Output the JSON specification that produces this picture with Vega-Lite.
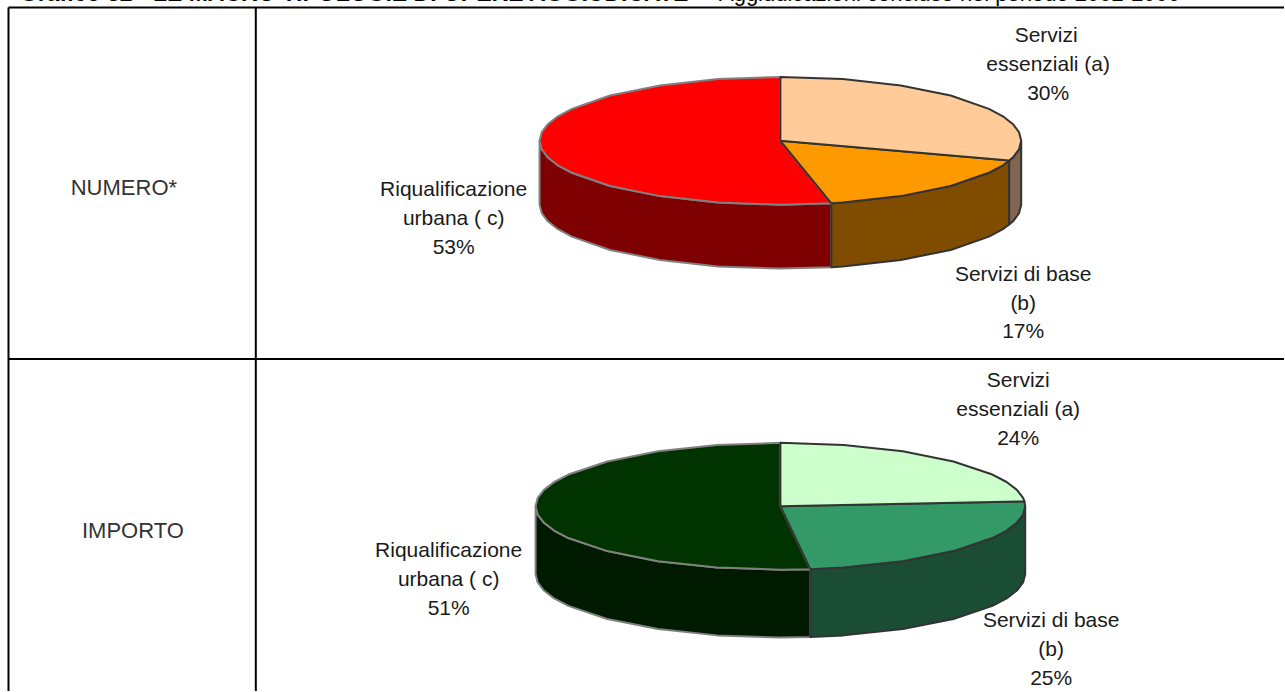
{"$schema":"https://vega.github.io/schema/vega-lite/v6.json","width":1285,"height":692,"autosize":{"type":"fit","contains":"padding"},"padding":0,"background":"#ffffff","config":{"view":{"stroke":null}},
"datasets":{
"grid":[{"x":8.5,"x2":8.5,"y":7.5,"y2":692},{"x":256,"x2":256,"y":7.5,"y2":692},{"x":8.5,"x2":1285,"y":7.5,"y2":7.5},{"x":8.5,"x2":1285,"y":359.5,"y2":359.5}],
"shapes":[
{"part":"n_side_c","x":832,"y":203.6},{"part":"n_side_c","x":781,"y":205},{"part":"n_side_c","x":718.6,"y":202.8},{"part":"n_side_c","x":660.5,"y":196.4},{"part":"n_side_c","x":610.6,"y":186.3},{"part":"n_side_c","x":572.3,"y":173},{"part":"n_side_c","x":558.3,"y":165.5},{"part":"n_side_c","x":548.2,"y":157.6},{"part":"n_side_c","x":542.1,"y":149.4},{"part":"n_side_c","x":540,"y":141},{"part":"n_side_c","x":540,"y":205},{"part":"n_side_c","x":542.1,"y":213.4},{"part":"n_side_c","x":548.2,"y":221.6},{"part":"n_side_c","x":558.3,"y":229.5},{"part":"n_side_c","x":572.3,"y":237},{"part":"n_side_c","x":610.6,"y":250.3},{"part":"n_side_c","x":660.5,"y":260.4},{"part":"n_side_c","x":718.6,"y":266.8},{"part":"n_side_c","x":781,"y":269},{"part":"n_side_c","x":832,"y":267.6},{"part":"n_side_c","x":832,"y":203.6},
{"part":"n_side_b","x":1010,"y":160.8},{"part":"n_side_b","x":1003.7,"y":165.5},{"part":"n_side_b","x":989.7,"y":173},{"part":"n_side_b","x":951.4,"y":186.3},{"part":"n_side_b","x":901.5,"y":196.4},{"part":"n_side_b","x":843.4,"y":202.8},{"part":"n_side_b","x":832,"y":203.6},{"part":"n_side_b","x":832,"y":267.6},{"part":"n_side_b","x":843.4,"y":266.8},{"part":"n_side_b","x":901.5,"y":260.4},{"part":"n_side_b","x":951.4,"y":250.3},{"part":"n_side_b","x":989.7,"y":237},{"part":"n_side_b","x":1003.7,"y":229.5},{"part":"n_side_b","x":1010,"y":224.8},{"part":"n_side_b","x":1010,"y":160.8},
{"part":"n_side_a","x":1010,"y":160.8},{"part":"n_side_a","x":1013.8,"y":157.6},{"part":"n_side_a","x":1019.9,"y":149.4},{"part":"n_side_a","x":1022,"y":141},{"part":"n_side_a","x":1022,"y":205},{"part":"n_side_a","x":1019.9,"y":213.4},{"part":"n_side_a","x":1013.8,"y":221.6},{"part":"n_side_a","x":1010,"y":224.8},{"part":"n_side_a","x":1010,"y":160.8},
{"part":"n_top_c","x":781,"y":141},{"part":"n_top_c","x":832,"y":203.6},{"part":"n_top_c","x":781,"y":205},{"part":"n_top_c","x":718.6,"y":202.8},{"part":"n_top_c","x":660.5,"y":196.4},{"part":"n_top_c","x":610.6,"y":186.3},{"part":"n_top_c","x":572.3,"y":173},{"part":"n_top_c","x":558.3,"y":165.5},{"part":"n_top_c","x":548.2,"y":157.6},{"part":"n_top_c","x":542.1,"y":149.4},{"part":"n_top_c","x":540,"y":141},{"part":"n_top_c","x":542.1,"y":132.6},{"part":"n_top_c","x":548.2,"y":124.4},{"part":"n_top_c","x":558.3,"y":116.5},{"part":"n_top_c","x":572.3,"y":109},{"part":"n_top_c","x":610.6,"y":95.7},{"part":"n_top_c","x":660.5,"y":85.6},{"part":"n_top_c","x":718.6,"y":79.2},{"part":"n_top_c","x":781,"y":77},{"part":"n_top_c","x":781,"y":141},
{"part":"n_top_b","x":781,"y":141},{"part":"n_top_b","x":1010,"y":160.8},{"part":"n_top_b","x":1003.7,"y":165.5},{"part":"n_top_b","x":989.7,"y":173},{"part":"n_top_b","x":951.4,"y":186.3},{"part":"n_top_b","x":901.5,"y":196.4},{"part":"n_top_b","x":843.4,"y":202.8},{"part":"n_top_b","x":832,"y":203.6},{"part":"n_top_b","x":781,"y":141},
{"part":"n_top_a","x":781,"y":141},{"part":"n_top_a","x":781,"y":77},{"part":"n_top_a","x":843.4,"y":79.2},{"part":"n_top_a","x":901.5,"y":85.6},{"part":"n_top_a","x":951.4,"y":95.7},{"part":"n_top_a","x":989.7,"y":109},{"part":"n_top_a","x":1003.7,"y":116.5},{"part":"n_top_a","x":1013.8,"y":124.4},{"part":"n_top_a","x":1019.9,"y":132.6},{"part":"n_top_a","x":1022,"y":141},{"part":"n_top_a","x":1019.9,"y":149.4},{"part":"n_top_a","x":1013.8,"y":157.6},{"part":"n_top_a","x":1010,"y":160.8},{"part":"n_top_a","x":781,"y":141},
{"part":"i_side_c","x":810.9,"y":570},{"part":"i_side_c","x":781,"y":570.5},{"part":"i_side_c","x":717.6,"y":568.3},{"part":"i_side_c","x":658.5,"y":562},{"part":"i_side_c","x":607.8,"y":551.9},{"part":"i_side_c","x":568.8,"y":538.8},{"part":"i_side_c","x":554.6,"y":531.3},{"part":"i_side_c","x":544.3,"y":523.4},{"part":"i_side_c","x":538.1,"y":515.3},{"part":"i_side_c","x":536,"y":507},{"part":"i_side_c","x":536,"y":575},{"part":"i_side_c","x":538.1,"y":583.3},{"part":"i_side_c","x":544.3,"y":591.4},{"part":"i_side_c","x":554.6,"y":599.3},{"part":"i_side_c","x":568.8,"y":606.8},{"part":"i_side_c","x":607.8,"y":619.9},{"part":"i_side_c","x":658.5,"y":630},{"part":"i_side_c","x":717.6,"y":636.3},{"part":"i_side_c","x":781,"y":638.5},{"part":"i_side_c","x":810.9,"y":638},{"part":"i_side_c","x":810.9,"y":570},
{"part":"i_side_b","x":1026,"y":507},{"part":"i_side_b","x":1023.9,"y":515.3},{"part":"i_side_b","x":1017.7,"y":523.4},{"part":"i_side_b","x":1007.4,"y":531.3},{"part":"i_side_b","x":993.2,"y":538.8},{"part":"i_side_b","x":954.2,"y":551.9},{"part":"i_side_b","x":903.5,"y":562},{"part":"i_side_b","x":844.4,"y":568.3},{"part":"i_side_b","x":810.9,"y":570},{"part":"i_side_b","x":810.9,"y":638},{"part":"i_side_b","x":844.4,"y":636.3},{"part":"i_side_b","x":903.5,"y":630},{"part":"i_side_b","x":954.2,"y":619.9},{"part":"i_side_b","x":993.2,"y":606.8},{"part":"i_side_b","x":1007.4,"y":599.3},{"part":"i_side_b","x":1017.7,"y":591.4},{"part":"i_side_b","x":1023.9,"y":583.3},{"part":"i_side_b","x":1026,"y":575},{"part":"i_side_b","x":1026,"y":507},
{"part":"i_top_c","x":781,"y":507},{"part":"i_top_c","x":810.9,"y":570},{"part":"i_top_c","x":781,"y":570.5},{"part":"i_top_c","x":717.6,"y":568.3},{"part":"i_top_c","x":658.5,"y":562},{"part":"i_top_c","x":607.8,"y":551.9},{"part":"i_top_c","x":568.8,"y":538.8},{"part":"i_top_c","x":554.6,"y":531.3},{"part":"i_top_c","x":544.3,"y":523.4},{"part":"i_top_c","x":538.1,"y":515.3},{"part":"i_top_c","x":536,"y":507},{"part":"i_top_c","x":538.1,"y":498.7},{"part":"i_top_c","x":544.3,"y":490.6},{"part":"i_top_c","x":554.6,"y":482.7},{"part":"i_top_c","x":568.8,"y":475.2},{"part":"i_top_c","x":607.8,"y":462.1},{"part":"i_top_c","x":658.5,"y":452},{"part":"i_top_c","x":717.6,"y":445.7},{"part":"i_top_c","x":781,"y":443.5},{"part":"i_top_c","x":781,"y":507},
{"part":"i_top_b","x":781,"y":507},{"part":"i_top_b","x":1025.2,"y":502},{"part":"i_top_b","x":1026,"y":507},{"part":"i_top_b","x":1023.9,"y":515.3},{"part":"i_top_b","x":1017.7,"y":523.4},{"part":"i_top_b","x":1007.4,"y":531.3},{"part":"i_top_b","x":993.2,"y":538.8},{"part":"i_top_b","x":954.2,"y":551.9},{"part":"i_top_b","x":903.5,"y":562},{"part":"i_top_b","x":844.4,"y":568.3},{"part":"i_top_b","x":810.9,"y":570},{"part":"i_top_b","x":781,"y":507},
{"part":"i_top_a","x":781,"y":507},{"part":"i_top_a","x":781,"y":443.5},{"part":"i_top_a","x":844.4,"y":445.7},{"part":"i_top_a","x":903.5,"y":452},{"part":"i_top_a","x":954.2,"y":462.1},{"part":"i_top_a","x":993.2,"y":475.2},{"part":"i_top_a","x":1007.4,"y":482.7},{"part":"i_top_a","x":1017.7,"y":490.6},{"part":"i_top_a","x":1023.9,"y":498.7},{"part":"i_top_a","x":1025.2,"y":502},{"part":"i_top_a","x":781,"y":507}
],
"labels":[
{"text":"Servizi","x":1047,"y":36},{"text":"essenziali (a)","x":1049,"y":65},{"text":"30%","x":1049,"y":94},
{"text":"Servizi di base","x":1024,"y":275},{"text":"(b)","x":1024,"y":304},{"text":"17%","x":1024,"y":332},
{"text":"Riqualificazione","x":454,"y":190},{"text":"urbana ( c)","x":454,"y":219},{"text":"53%","x":454,"y":248},
{"text":"Servizi","x":1019,"y":382},{"text":"essenziali (a)","x":1019,"y":411},{"text":"24%","x":1019,"y":440},
{"text":"Servizi di base","x":1052,"y":622},{"text":"(b)","x":1052,"y":651},{"text":"25%","x":1052,"y":680},
{"text":"Riqualificazione","x":449,"y":552},{"text":"urbana ( c)","x":449,"y":581},{"text":"51%","x":449,"y":610}
]},
"encoding":{
"x":{"field":"x","type":"quantitative","scale":{"domain":[0,1285],"nice":false,"zero":false},"axis":null},
"y":{"field":"y","type":"quantitative","scale":{"domain":[692,0],"nice":false,"zero":false},"axis":null}
},
"layer":[
{"data":{"name":"grid"},"mark":{"type":"rule","color":"#000000","strokeWidth":2},"encoding":{"x2":{"field":"x2"},"y2":{"field":"y2"}}},
{"data":{"name":"shapes"},"mark":{"type":"line","strokeWidth":2,"strokeJoin":"round"},"encoding":{
"order":{"value":null},
"fill":{"field":"part","type":"nominal","legend":null,"sort":null,"scale":{"domain":["n_side_c","n_side_b","n_side_a","n_top_c","n_top_b","n_top_a","i_side_c","i_side_b","i_top_c","i_top_b","i_top_a"],"range":["#7F0000","#804C00","#806650","#FF0000","#FF9900","#FFCC99","#001A00","#1A4D33","#003300","#339966","#CCFFCC"]}},
"stroke":{"field":"part","type":"nominal","legend":null,"sort":null,"scale":{"domain":["n_side_c","n_side_b","n_side_a","n_top_c","n_top_b","n_top_a","i_side_c","i_side_b","i_top_c","i_top_b","i_top_a"],"range":["#808080","#333333","#333333","#808080","#333333","#333333","#808080","#333333","#808080","#333333","#333333"]}}
}},
{"data":{"name":"labels"},"mark":{"type":"text","font":"Liberation Sans","fontSize":21,"color":"#1a1a1a","baseline":"middle","align":"center"},"encoding":{"text":{"field":"text"}}},
{"data":{"values":[{"text":"NUMERO*","x":124,"y":188},{"text":"IMPORTO","x":133,"y":532}]},"mark":{"type":"text","font":"Liberation Sans","fontSize":22,"color":"#333333","baseline":"middle","align":"center"},"encoding":{"text":{"field":"text"}}},
{"data":{"values":[{"text":"Grafico 32 - LE MACRO TIPOLOGIE DI OPERE AGGIUDICATE -","x":20,"y":1.5}]},"mark":{"type":"text","clip":true,"font":"Liberation Sans","fontSize":23,"fontWeight":"bold","color":"#000000","align":"left","baseline":"alphabetic"},"encoding":{"text":{"field":"text"}}},
{"data":{"values":[{"text":"Aggiudicazioni concluse nel periodo 2002-2006","x":1181,"y":1.5}]},"mark":{"type":"text","clip":true,"font":"Liberation Sans","fontSize":22,"color":"#000000","align":"right","baseline":"alphabetic"},"encoding":{"text":{"field":"text"}}}
]}
